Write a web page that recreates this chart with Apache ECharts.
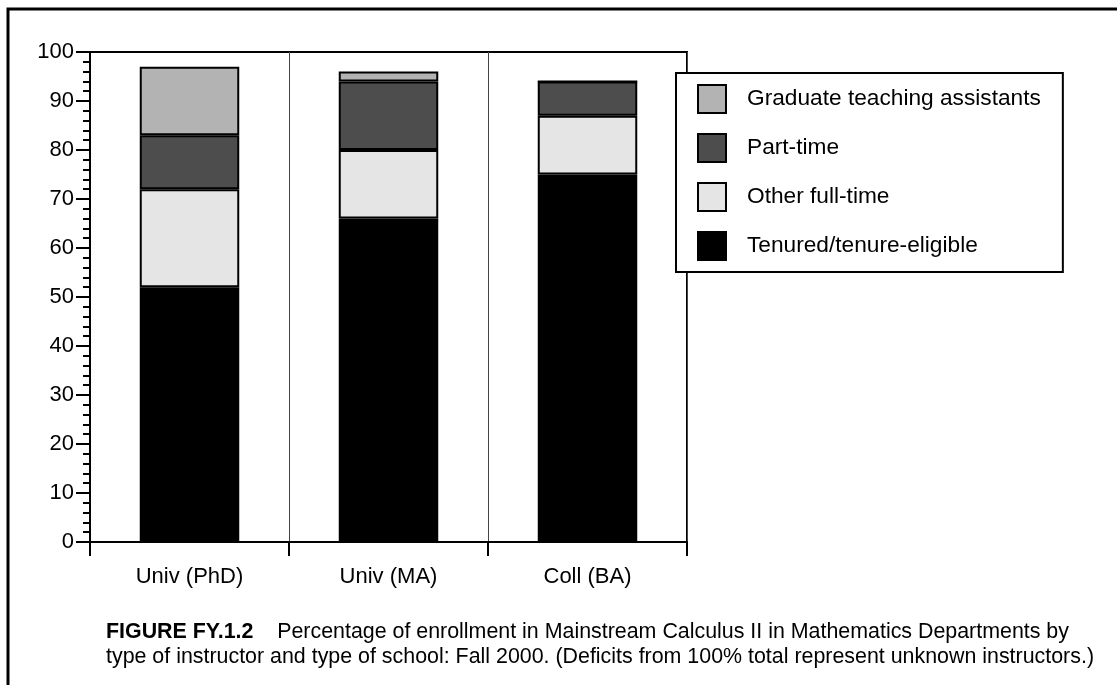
<!DOCTYPE html>
<html>
<head>
<meta charset="utf-8">
<script src="https://cdn.jsdelivr.net/npm/echarts@6/dist/echarts.min.js"></script>
<style>
  html, body { margin: 0; padding: 0; background: #fff; }
  #main { width: 1117px; height: 685px; }
</style>
</head>
<body>
<div id="main"></div>
<script>
// school types on the x axis
var schools = ["Univ (PhD)", "Univ (MA)", "Coll (BA)"];
// percent of enrollment by instructor type, bottom of stack first
var tenured = [52, 66, 75];
var otherFullTime = [20, 14, 12];
var partTime = [11, 14, 7];
var gradAssistants = [14, 2, 0];
var yTicks = [0, 10, 20, 30, 40, 50, 60, 70, 80, 90, 100];

var font = "'Liberation Sans', Arial, Helvetica, sans-serif";

var chart = echarts.init(document.getElementById("main"));

function bar(name, data, color) {
  return {
    name: name,
    type: "bar",
    stack: "all",
    barWidth: "50%",
    data: data,
    itemStyle: { color: color, borderColor: "#000", borderWidth: 2 },
    emphasis: { disabled: true }
  };
}

chart.setOption({
  animation: false,
  textStyle: { fontFamily: font },
  grid: {
    left: 90, top: 52, right: 430, bottom: 143,
    show: true, borderColor: "#000", borderWidth: 2, backgroundColor: "transparent"
  },
  legend: {
    orient: "vertical",
    left: 676, top: 73,
    itemWidth: 28, itemHeight: 28, itemGap: 19,
    padding: [11, 22, 11, 21],
    backgroundColor: "#fff",
    borderColor: "#000", borderWidth: 2,
    icon: "rect",
    selectedMode: false,
    textStyle: { fontSize: 22.7, color: "#000", fontFamily: font, padding: [0, 0, 0, 16] },
    data: ["Graduate teaching assistants", "Part-time", "Other full-time", "Tenured/tenure-eligible"]
  },
  xAxis: {
    type: "category",
    data: schools,
    axisLine: { lineStyle: { color: "#000", width: 2 } },
    axisTick: { show: true, length: 14, lineStyle: { color: "#000", width: 2 } },
    axisLabel: { fontSize: 22, color: "#000", margin: 24, fontFamily: font },
    splitLine: { show: true, lineStyle: { color: "#444", width: 1 } }
  },
  yAxis: {
    type: "value",
    min: yTicks[0], max: yTicks[yTicks.length - 1], interval: 10,
    axisLine: { show: true, lineStyle: { color: "#000", width: 2 } },
    axisTick: { show: true, length: 14, lineStyle: { color: "#000", width: 2 } },
    minorTick: { show: true, splitNumber: 5, length: 7, lineStyle: { color: "#000", width: 2 } },
    axisLabel: { fontSize: 22, color: "#000", margin: 16, fontFamily: font },
    splitLine: { show: false }
  },
  series: [
    bar("Tenured/tenure-eligible", tenured, "#000000"),
    bar("Other full-time", otherFullTime, "#e5e5e5"),
    bar("Part-time", partTime, "#4d4d4d"),
    bar("Graduate teaching assistants", gradAssistants, "#b3b3b3")
  ],
  graphic: [
    {
      type: "rect", z: -1, silent: true,
      shape: { x: 8, y: 9, width: 1300, height: 900 },
      style: { fill: "none", stroke: "#000", lineWidth: 3 }
    },
    {
      type: "text", left: 106, top: 622,
      style: {
        text: "{b|FIGURE FY.1.2}    Percentage of enrollment in Mainstream Calculus II in Mathematics Departments by",
        font: "21.4px " + font, fill: "#000",
        rich: { b: { fontWeight: "bold", fontSize: 21.4, fontFamily: font } }
      }
    },
    {
      type: "text", left: 106, top: 647,
      style: {
        text: "type of instructor and type of school: Fall 2000. (Deficits from 100% total represent unknown instructors.)",
        font: "21.4px " + font, fill: "#000"
      }
    }
  ]
});
</script>
</body>
</html>
